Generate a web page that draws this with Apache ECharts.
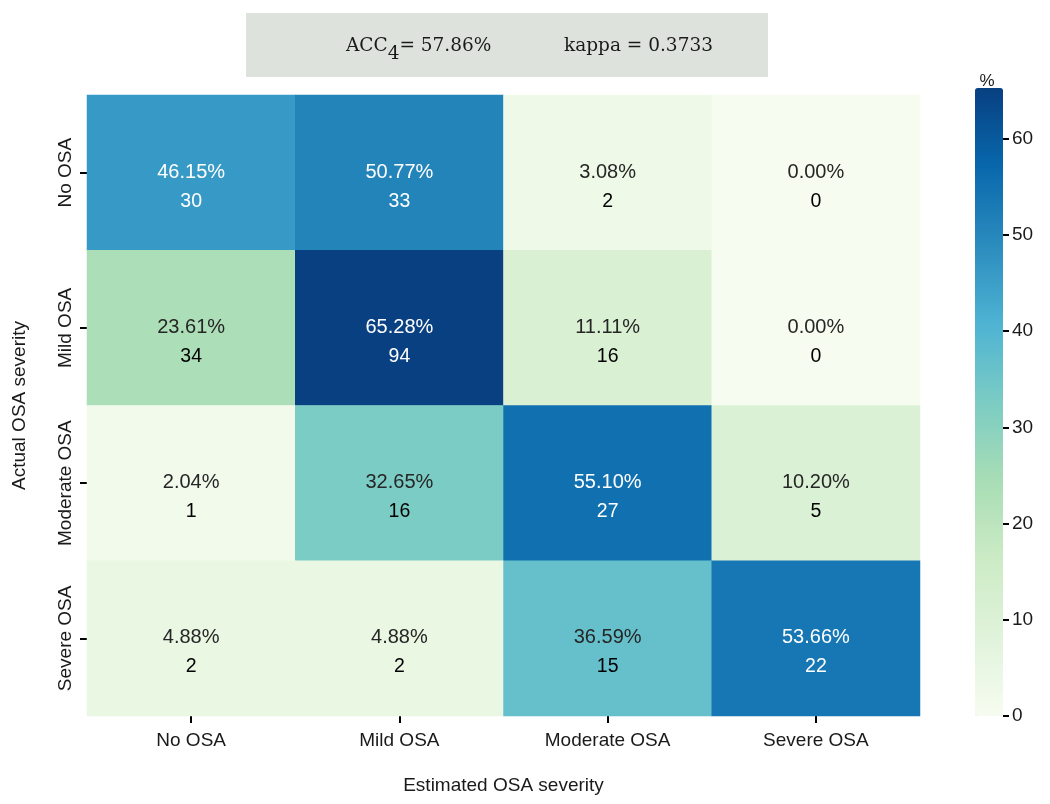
<!DOCTYPE html>
<html>
<head>
<meta charset="utf-8">
<script src="https://cdn.jsdelivr.net/npm/echarts@6/dist/echarts.min.js"></script>
<style>html,body{margin:0;padding:0;background:#fff;}#c{width:1050px;height:804px;}</style>
</head>
<body>
<div id="c"></div>
<script>
const estimated = ['No OSA', 'Mild OSA', 'Moderate OSA', 'Severe OSA'];
const actual = ['No OSA', 'Mild OSA', 'Moderate OSA', 'Severe OSA'];
const pctNo = [46.15, 50.77, 3.08, 0.00];
const pctMild = [23.61, 65.28, 11.11, 0.00];
const pctModerate = [2.04, 32.65, 55.10, 10.20];
const pctSevere = [4.88, 4.88, 36.59, 53.66];
const cntNo = [30, 33, 2, 0];
const cntMild = [34, 94, 16, 0];
const cntModerate = [1, 16, 27, 5];
const cntSevere = [2, 2, 15, 22];
const colorbarTicks = [0, 10, 20, 30, 40, 50, 60];
const accText = '57.86%';
const kappaText = '0.3733';

const pctRows = [pctNo, pctMild, pctModerate, pctSevere];
const cntRows = [cntNo, cntMild, cntModerate, cntSevere];
const vmax = Math.max(...pctRows.flat());
const gnbu = ['#f7fcf0','#e0f3db','#ccebc5','#a8ddb5','#7bccc4','#4eb3d3','#2b8cbe','#0868ac','#084081'];
const FONT = 'Liberation Sans';

const data = [];
pctRows.forEach((row, yi) => {
  row.forEach((v, xi) => {
    const light = v > 40;
    data.push({
      value: [xi, yi, v],
      label: {
        formatter: '{p|' + v.toFixed(2) + '%}\n{c|' + cntRows[yi][xi] + '}',
        rich: {
          p: { color: light ? '#ffffff' : '#262626', fontSize: 20, lineHeight: 29, fontFamily: FONT },
          c: { color: light ? '#ffffff' : '#000000', fontSize: 19.5, lineHeight: 29, fontFamily: FONT }
        }
      }
    });
  });
});

const serifRich = {
  a: { fontFamily: 'DejaVu Serif', fontSize: 18.5, fill: '#1a1a1a', verticalAlign: 'middle', lineHeight: 24 },
  s: { fontFamily: 'DejaVu Serif', fontSize: 18.5, fill: '#1a1a1a', verticalAlign: 'bottom', lineHeight: 34 }
};

const chart = echarts.init(document.getElementById('c'), null, { renderer: 'canvas' });
chart.setOption({
  animation: false,
  backgroundColor: '#ffffff',
  graphic: [{
    type: 'rect', left: 246, top: 13, shape: { width: 522, height: 64 },
    style: { fill: '#dde3dc' }, z: 0
  }, {
    type: 'text', left: 346, top: 37, z: 5,
    style: { text: '{a|ACC}{s|4}{a|= ' + accText + '}', rich: serifRich }
  }, {
    type: 'text', left: 564, top: 37, z: 5,
    style: { text: '{a|kappa = ' + kappaText + '}', rich: serifRich }
  }],
  grid: [
    { left: 87, right: 130, top: 95, bottom: 88 },
    { left: 975, width: 28, top: 88, height: 628 }
  ],
  xAxis: [{
    type: 'category', data: estimated, gridIndex: 0,
    axisLine: { show: false },
    axisTick: { show: true, alignWithLabel: true, length: 7, lineStyle: { color: '#000', width: 2 } },
    axisLabel: { interval: 0, fontFamily: FONT, fontSize: 19, color: '#1a1a1a', margin: 15 },
    splitLine: { show: false },
    name: 'Estimated OSA severity', nameLocation: 'middle', nameGap: 60,
    nameTextStyle: { fontFamily: FONT, fontSize: 19, color: '#1a1a1a' }
  }, {
    type: 'value', gridIndex: 1, show: false, min: 0, max: 1
  }],
  yAxis: [{
    type: 'category', data: actual, gridIndex: 0, inverse: true,
    axisLine: { show: false },
    axisTick: { show: true, alignWithLabel: true, length: 7, lineStyle: { color: '#000', width: 2 } },
    axisLabel: { interval: 0, fontFamily: FONT, fontSize: 19, color: '#1a1a1a', rotate: 90, margin: 12 },
    splitLine: { show: false },
    name: 'Actual OSA severity', nameLocation: 'middle', nameGap: 58,
    nameTextStyle: { fontFamily: FONT, fontSize: 19, color: '#1a1a1a' }
  }, {
    type: 'value', gridIndex: 1, position: 'right', min: 0, max: vmax, z: 10,
    axisLine: { show: false, onZero: false },
    axisTick: { show: true, inside: false, length: 6, customValues: colorbarTicks, lineStyle: { color: '#000', width: 2 } },
    axisLabel: { fontFamily: FONT, fontSize: 19, color: '#1a1a1a', margin: 9, customValues: colorbarTicks },
    splitLine: { show: false },
    name: '%', nameLocation: 'end', nameGap: -2,
    nameTextStyle: { fontFamily: FONT, fontSize: 17, color: '#1a1a1a', align: 'center', padding: [0, 32, 0, 0] }
  }],
  visualMap: {
    type: 'continuous', min: 0, max: vmax, calculable: false, hoverLink: false,
    seriesIndex: 0, orient: 'vertical', left: 975, top: 88, padding: 0,
    itemWidth: 28, itemHeight: 628, text: null, showLabel: false,
    inRange: { color: gnbu }
  },
  series: [{
    type: 'heatmap', xAxisIndex: 0, yAxisIndex: 0, data: data,
    label: { show: true, offset: [0, 14] },
    itemStyle: { borderWidth: 0 },
    emphasis: { disabled: true }
  }, {
    type: 'line', xAxisIndex: 1, yAxisIndex: 1, data: [], silent: true
  }]
});
</script>
</body>
</html>
